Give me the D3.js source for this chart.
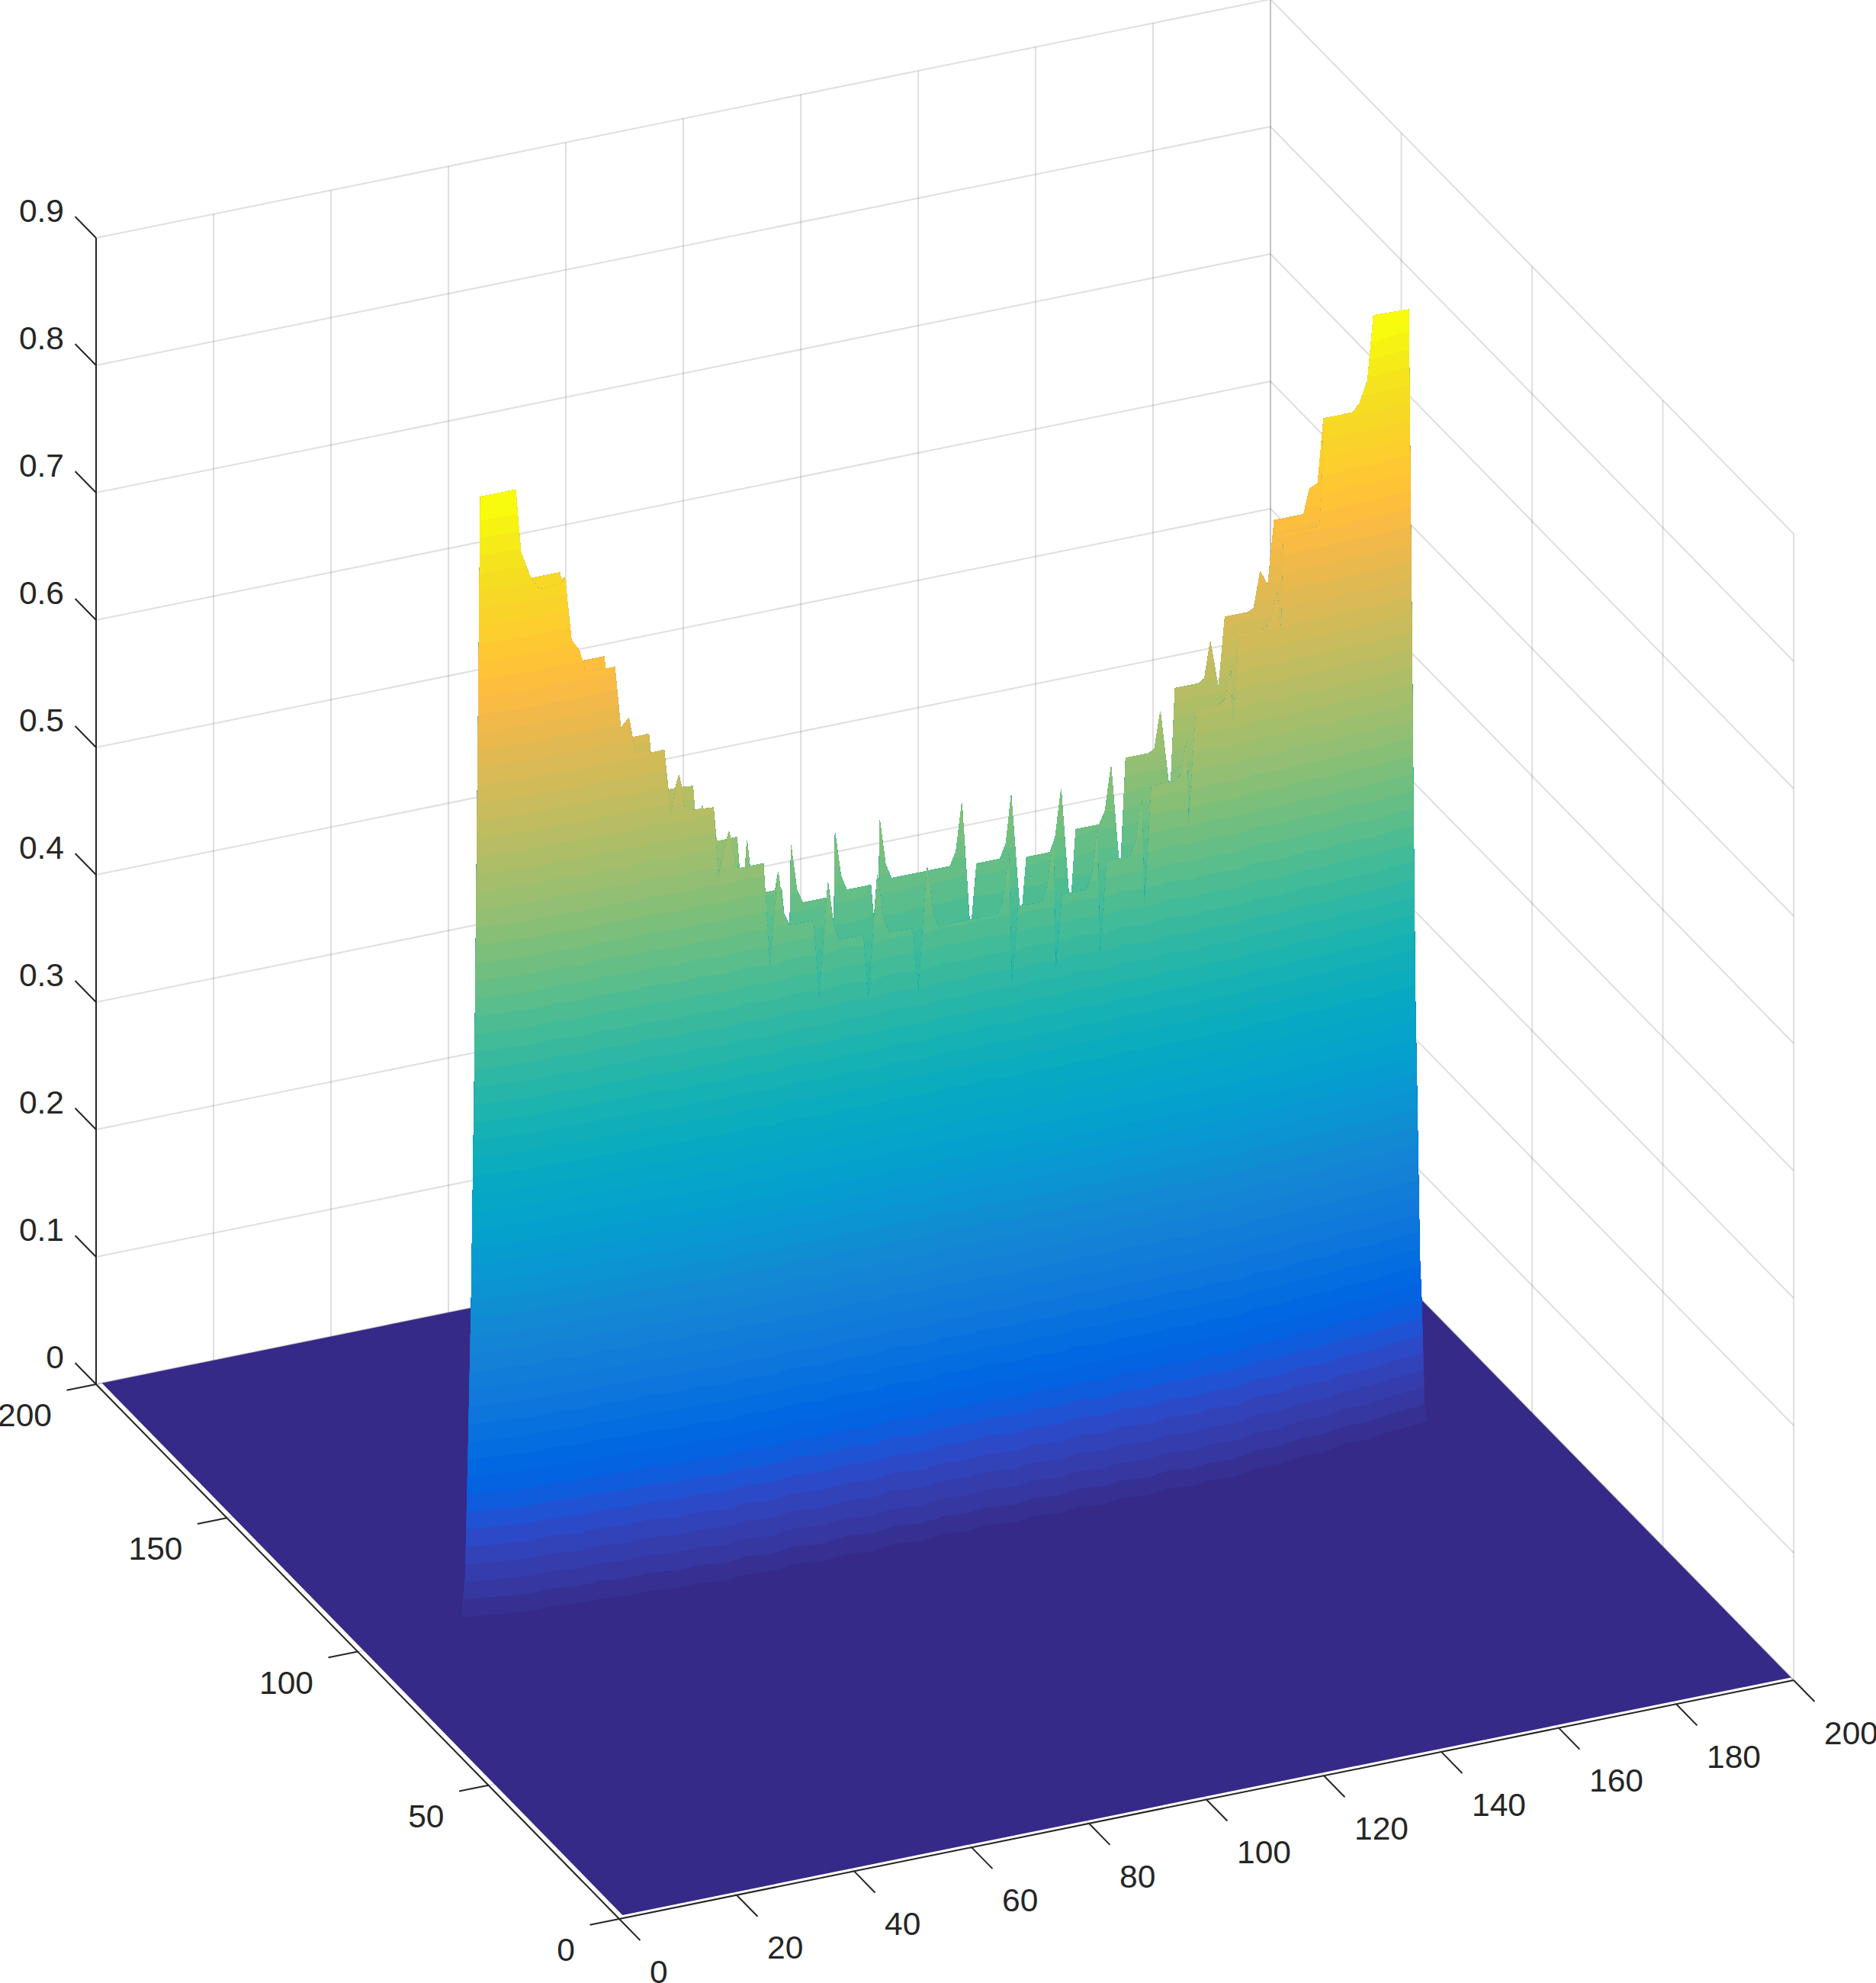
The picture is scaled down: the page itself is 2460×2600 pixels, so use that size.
<!DOCTYPE html>
<html lang="en">
<head>
    <meta charset="UTF-8">
    <title>Surface plot</title>
    <style>
        body { margin: 0; background: #fff; }
        text { font-family: "Liberation Sans", Arial, sans-serif; font-size: 42.5px; fill: #262626; }
    </style>
    <script src="https://cdn.jsdelivr.net/npm/d3@7"></script>
</head>
<body>
    <script>
        // Tick labels
        const xTicks = [0, 20, 40, 60, 80, 100, 120, 140, 160, 180, 200];
        const yTicks = [0, 50, 100, 150, 200];
        const zTicks = [0, 0.1, 0.2, 0.3, 0.4, 0.5, 0.6, 0.7, 0.8, 0.9];

        // Outer ridge of the wall (rear sheet) at y = 100
        const backRidgeX = [20.9, 26.9, 27.8, 29.5, 34.5, 34.6, 35.3, 36.4, 37.7, 38.3, 42.0, 42.2, 43.8, 44.8, 46.2, 46.8, 49.6, 49.9, 52.2, 52.9,
            54.1, 54.7, 55.2, 57.1, 57.4, 58.6, 58.7, 58.9, 60.6, 61.1, 62.9, 63.2, 63.5, 64.6, 65.0, 66.0, 66.3, 66.8, 69.1, 69.4,
            71.1, 71.6, 72.0, 72.2, 72.6, 73.6, 73.8, 74.8, 75.8, 79.9, 80.1, 81.1, 81.3, 82.3, 83.3, 87.4, 87.9, 88.5, 88.7, 88.9,
            89.9, 90.9, 100.9, 101.9, 102.9, 104.2, 104.6, 105.4, 109.4, 110.4, 111.3, 112.7, 113.2, 113.9, 117.9, 118.8, 119.8, 121.1, 121.6, 122.3,
            126.3, 127.3, 128.3, 129.6, 130.0, 130.8, 134.8, 135.7, 136.7, 138.1, 138.5, 139.2, 143.2, 144.2, 145.2, 146.6, 147.7, 151.6, 152.6, 153.7,
            155.0, 156.1, 161.1, 162.1, 163.5, 164.5, 169.5, 170.6, 172.0, 173.0, 179.0];
        const backRidgeZ = [.887, .887, .837, .815, .815, .810, .810, .760, .751, .742, .742, .732, .732, .683, .690, .674, .674, .659, .659, .627,
            .627, .637, .627, .626, .607, .607, .609, .606, .606, .579, .579, .585, .579, .579, .554, .554, .575, .554, .554, .531,
            .531, .545, .531, .531, .511, .501, .564, .528, .517, .517, .529, .493, .567, .532, .520, .520, .492, .527, .492, .570,
            .534, .522, .522, .533, .570, .477, .477, .520, .520, .531, .568, .480, .479, .517, .517, .528, .565, .482, .482, .531,
            .531, .541, .575, .501, .501, .579, .579, .582, .610, .553, .554, .626, .626, .629, .657, .619, .674, .674, .676, .704,
            .692, .742, .742, .761, .764, .814, .814, .820, .837, .887, .886];

        // Ridge of the nearer sheet
        const frontRidgeX = [20.9, 26.9, 27.8, 29.5, 31.0, 34.6, 35.3, 36.4, 37.7, 38.3, 38.7, 42.2, 43.8, 44.8, 46.2, 46.8, 47.3, 49.9, 52.2, 53.3,
            54.7, 55.7, 57.4, 60.6, 61.4, 63.2, 64.4, 65.0, 69.1, 70.2, 71.6, 72.6, 73.6, 77.6, 78.6, 80.1, 81.1, 82.0, 86.1, 87.0,
            88.5, 89.5, 90.5, 94.5, 95.5, 97.0, 98.0, 98.9, 109.0, 110.0, 110.9, 111.4, 112.5, 116.5, 117.4, 118.5, 118.9, 120.0, 124.1, 125.1,
            126.0, 126.4, 127.6, 131.6, 132.6, 133.5, 134.0, 135.2, 139.2, 140.2, 141.2, 141.5, 142.8, 146.7, 147.8, 148.7, 149.0, 150.2, 154.2, 155.3,
            156.6, 157.3, 157.7, 163.8, 164.2, 164.5, 169.5, 170.6, 172.0, 173.0, 179.0];
        const frontRidgeZ = [.887, .887, .837, .815, .805, .806, .810, .760, .751, .742, .733, .732, .732, .683, .690, .674, .661, .659, .659, .607,
            .637, .609, .607, .606, .550, .585, .556, .554, .554, .472, .545, .511, .501, .501, .438, .529, .493, .482, .482, .430,
            .527, .492, .480, .479, .428, .525, .488, .477, .477, .489, .522, .418, .480, .479, .490, .525, .422, .482, .482, .493,
            .528, .427, .501, .501, .513, .545, .459, .553, .553, .557, .583, .515, .606, .606, .610, .631, .588, .659, .658, .661,
            .686, .652, .730, .730, .754, .814, .814, .820, .837, .887, .886];

        // Side edges of the wall
        const leftEdgeX = [20.9, 19.9, 19.35, 18.8, 18.3, 17.75];
        const leftEdgeZ = [.887, .440, .261, .141, .042, .015];
        const rightEdgeX = [179.0, 179.5, 180.1, 180.3, 180.9, 181.2, 181.7, 182.2];
        const rightEdgeZ = [.886, .649, .350, .301, .139, .106, .025, .010];

        // Where the wall stands in y: small dips along x, corners that turn back, rear sheet offset
        const wallXs = [10, 26, 30, 34, 38, 42, 46, 50, 54, 58, 62, 66, 70, 74, 78.6, 83, 87, 91, 95.5, 100, 103, 107, 111.4, 115, 118.9, 122.5, 126.4, 130, 134, 138, 141.5, 145, 149, 153, 157, 161, 165, 169, 173, 177, 190];
        const wallDip = [0, 0, -.5, 0, -.6, 0, -.5, .1, -.6, 0, -.7, 0, -.8, .1, -.8, 0, -.8, .1, -.8, .1, -.5, .1, -.8, 0, -.8, .1, -.8, 0, -.7, .1, -.7, 0, -.7, .1, -.6, 0, -.6, 0, -.5, 0, 0];
        const cornerXs = [10, 20.4, 23.4, 61, 147, 184, 192];
        const cornerLift = [7, 6.5, 3.4, .1, 0, 4.7, 5.5];
        const cornerFadeZ = [0, .2, .6, .887];
        const cornerFade = [1, .6, .35, .1];
        const gapZ = [0, .38, .44, .5, .58, .66, .75, .887];
        const gapY = [0, 0, 5, 10, 7, 4, 2, 1];

        // Colormap, 64 steps
        const colormap = [
            [.2081, .1663, .5292], [.2116, .1898, .5777], [.2123, .2138, .6270], [.2081, .2386, .6771], [.1959, .2645, .7279], [.1707, .2919, .7792], [.1253, .3242, .8303], [.0591, .3598, .8683],
            [.0117, .3875, .8820], [.0060, .4086, .8828], [.0165, .4266, .8786], [.0329, .4430, .8720], [.0498, .4586, .8641], [.0629, .4737, .8554], [.0723, .4887, .8467], [.0779, .5040, .8384],
            [.0793, .5200, .8312], [.0749, .5375, .8263], [.0641, .5570, .8240], [.0488, .5772, .8228], [.0343, .5966, .8199], [.0265, .6137, .8135], [.0239, .6287, .8038], [.0231, .6418, .7913],
            [.0228, .6535, .7768], [.0267, .6642, .7607], [.0384, .6743, .7436], [.0590, .6838, .7254], [.0843, .6928, .7062], [.1133, .7015, .6859], [.1453, .7098, .6646], [.1801, .7177, .6424],
            [.2178, .7250, .6193], [.2586, .7317, .5954], [.3022, .7376, .5712], [.3482, .7424, .5473], [.3953, .7459, .5244], [.4420, .7481, .5033], [.4871, .7491, .4840], [.5300, .7491, .4661],
            [.5709, .7485, .4494], [.6099, .7473, .4337], [.6473, .7456, .4188], [.6834, .7435, .4044], [.7184, .7411, .3905], [.7525, .7384, .3768], [.7858, .7356, .3633], [.8185, .7327, .3498],
            [.8507, .7299, .3360], [.8824, .7274, .3217], [.9139, .7258, .3063], [.9450, .7261, .2886], [.9739, .7314, .2666], [.9938, .7455, .2403], [.9990, .7653, .2164], [.9955, .7861, .1967],
            [.9880, .8066, .1794], [.9789, .8271, .1633], [.9697, .8481, .1475], [.9626, .8705, .1309], [.9589, .8949, .1132], [.9598, .9218, .0948], [.9661, .9514, .0755], [.9763, .9831, .0538]
        ];
        const colorAt = (i) => d3.rgb(...colormap[i].map((c) => c * 255)).formatHex();

        const width = 2460;
        const height = 2600;
        const zBandStep = 0.01401;

        // Oblique projection of the box
        const xToPx = d3.scaleLinear([0, 200], [812, 2352]);
        const xToPy = d3.scaleLinear([0, 200], [2516, 2203]);
        const yToPx = d3.scaleLinear([0, 200], [0, -686]);
        const yToPy = d3.scaleLinear([0, 200], [0, -701]);
        const zToPy = d3.scaleLinear([0, 0.9], [0, -1503]);
        const project = (x, y, z) => [xToPx(x) + yToPx(y), xToPy(x) + yToPy(y) + zToPy(z)];

        const dipAt = d3.scaleLinear(wallXs, wallDip).clamp(true);
        const liftAt = d3.scaleLinear(cornerXs, cornerLift).clamp(true);
        const fadeAt = d3.scaleLinear(cornerFadeZ, cornerFade).clamp(true);
        const gapAt = d3.scaleLinear(gapZ, gapY).clamp(true);
        const wallY = (x, z, rear) => 99.4 + dipAt(x) + liftAt(x) * fadeAt(z) + (rear ? gapAt(z) : 0);

        const svg = d3.select("body").append("svg").attr("width", width).attr("height", height);
        const path = d3.line();

        // Grid on the back planes and the floor
        const gridLines = [];
        xTicks.forEach((x) => {
            gridLines.push([[x, 200, 0], [x, 200, 0.9]]);
            gridLines.push([[x, 0, 0], [x, 200, 0]]);
        });
        yTicks.forEach((y) => {
            gridLines.push([[200, y, 0], [200, y, 0.9]]);
            gridLines.push([[0, y, 0], [200, y, 0]]);
        });
        zTicks.forEach((z) => {
            gridLines.push([[0, 200, z], [200, 200, z]]);
            gridLines.push([[200, 0, z], [200, 200, z]]);
        });
        svg.append("g")
            .selectAll("path")
            .data(gridLines)
            .join("path")
            .attr("d", (d) => path(d.map((p) => project(...p))))
            .attr("fill", "none")
            .attr("stroke", "#262626")
            .attr("stroke-opacity", 0.15)
            .attr("stroke-width", 2);

        // Floor of the surface
        svg.append("path")
            .attr("d", path([[1, 1, 0], [200, 1, 0], [200, 200, 0], [1, 200, 0]].map((p) => project(...p))) + "Z")
            .attr("fill", colorAt(0));

        // Wall: one clip per sheet, colour bands painted upward inside it
        const outline = (ridgeX, ridgeZ) => [
            ...ridgeX.map((x, i) => project(x, 100, ridgeZ[i])),
            ...rightEdgeX.map((x, i) => project(x, 100, rightEdgeZ[i])),
            project(182.2, 100, -0.05),
            project(17.75, 100, -0.05),
            ...leftEdgeX.slice().reverse().map((x, i) => project(x, 100, leftEdgeZ[leftEdgeZ.length - 1 - i]))
        ];

        const drawSheet = (id, ridgeX, ridgeZ, rear) => {
            svg.append("clipPath").attr("id", id)
                .append("path").attr("d", path(outline(ridgeX, ridgeZ)) + "Z");
            const levels = d3.range(1, 64);
            svg.append("g")
                .attr("clip-path", `url(#${id})`)
                .selectAll("path")
                .data(levels)
                .join("path")
                .attr("d", (k) => {
                    const z = (k - 1) * zBandStep;
                    const lower = wallXs.map((x) => project(x, wallY(x, z, rear), z));
                    return path([...lower, project(190, 100, 1.2), project(10, 100, 1.2)]) + "Z";
                })
                .attr("fill", (k) => colorAt(k));
        };
        drawSheet("rear-sheet", backRidgeX, backRidgeZ, true);
        drawSheet("front-sheet", frontRidgeX, frontRidgeZ, false);

        // Axis lines
        const axisLines = [
            [[0, 0, 0], [200, 0, 0]],
            [[0, 0, 0], [0, 200, 0]],
            [[0, 200, 0], [0, 200, 0.9]]
        ];
        const tickLines = [
            ...xTicks.map((x) => [[x, 0, 0], [x, -8, 0]]),
            ...yTicks.map((y) => [[0, y, 0], [-5, y, 0]]),
            ...zTicks.map((z) => [[0, 200, z], [0, 208, z]])
        ];
        svg.append("g")
            .selectAll("path")
            .data([...axisLines, ...tickLines])
            .join("path")
            .attr("d", (d) => path(d.map((p) => project(...p))))
            .attr("fill", "none")
            .attr("stroke", "#262626")
            .attr("stroke-width", 2);

        // Tick labels
        svg.append("g").selectAll("text").data(xTicks).join("text")
            .attr("x", (d) => project(d, 0, 0)[0] + 40)
            .attr("y", (d) => project(d, 0, 0)[1] + 68.5)
            .attr("dy", "0.358em")
            .text((d) => d);
        svg.append("g").selectAll("text").data(yTicks).join("text")
            .attr("x", (d) => project(0, d, 0)[0] - 58)
            .attr("y", (d) => project(0, d, 0)[1] + 40)
            .attr("dy", "0.358em")
            .attr("text-anchor", "end")
            .text((d) => d);
        svg.append("g").selectAll("text").data(zTicks).join("text")
            .attr("x", (d) => project(0, 200, d)[0] - 42)
            .attr("y", (d) => project(0, 200, d)[1] - 36.5)
            .attr("dy", "0.358em")
            .attr("text-anchor", "end")
            .text((d) => d);
    </script>
</body>
</html>
